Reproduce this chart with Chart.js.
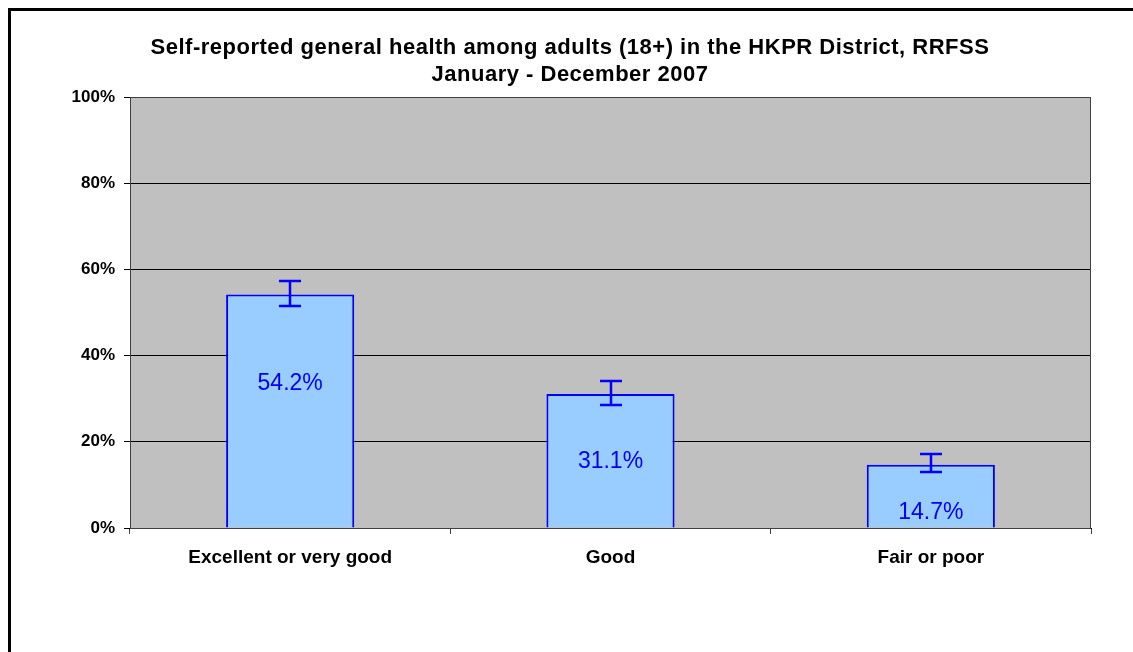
<!DOCTYPE html>
<html lang="en">
  <head>
    <meta charset="utf-8" />
    <title>Self-reported general health</title>
    <script src="https://cdn.jsdelivr.net/npm/chart.js@4.4.0/dist/chart.umd.min.js"></script>
    <style>
      html, body { margin: 0; padding: 0; background: #fff; }
      #wrap { width: 1133px; height: 652px; position: relative; }
    </style>
  </head>
  <body>
    <div id="wrap"><canvas id="healthChart"></canvas></div>
    <script>
      // ---- data ---------------------------------------------------------
      const categories = ["Excellent or very good", "Good", "Fair or poor"];
      const percents = [54.2, 31.1, 14.7];
      const ciLow = [51.6, 28.6, 12.9];
      const ciHigh = [57.4, 34.1, 17.1];
      const yTicks = [0, 20, 40, 60, 80, 100];
      const titleLines = [
        "Self-reported general health among adults (18+) in the HKPR District, RRFSS",
        "January - December 2007",
      ];
      // where the value labels sit (in % units, as in the original)
      const labelAt = [33.6, 15.5, 3.5];

      const FONT = "'Liberation Sans', Arial, sans-serif";

      // ---- plugins ------------------------------------------------------
      const backdrop = {
        id: "backdrop",
        beforeDraw(chart) {
          const { ctx, chartArea: a } = chart;
          ctx.save();
          ctx.fillStyle = "#fff";
          ctx.fillRect(0, 0, chart.width, chart.height);
          ctx.fillStyle = "#c0c0c0";
          ctx.fillRect(a.left, a.top, a.right - a.left, a.bottom - a.top);
          ctx.restore();
        },
        afterDraw(chart) {
          const { ctx, chartArea: a } = chart;
          ctx.save();
          // plot border
          ctx.strokeStyle = "#404040";
          ctx.lineWidth = 1;
          ctx.strokeRect(a.left + 0.5, a.top + 0.5, a.right - a.left - 1, a.bottom - a.top);
          // outer frame (cut off at right / bottom)
          ctx.strokeStyle = "#000";
          ctx.lineWidth = 3;
          ctx.beginPath();
          ctx.moveTo(9.5, chart.height + 2);
          ctx.lineTo(9.5, 9.5);
          ctx.lineTo(chart.width + 2, 9.5);
          ctx.stroke();
          // title
          ctx.fillStyle = "#000";
          ctx.font = "bold 22px " + FONT;
          ctx.letterSpacing = "0.5px";
          ctx.textAlign = "center";
          ctx.textBaseline = "middle";
          titleLines.forEach((t, i) => ctx.fillText(t, 570, 48 + i * 27));
          ctx.restore();
        },
      };

      const errorBars = {
        id: "errorBars",
        afterDatasetsDraw(chart) {
          const { ctx } = chart;
          const y = chart.scales.y;
          const meta = chart.getDatasetMeta(0);
          ctx.save();
          ctx.strokeStyle = "#0000ff";
          ctx.lineWidth = 2.5;
          meta.data.forEach((bar, i) => {
            const x = Math.round(bar.x);
            const yl = Math.round(y.getPixelForValue(ciLow[i]));
            const yh = Math.round(y.getPixelForValue(ciHigh[i]));
            ctx.beginPath();
            ctx.moveTo(x, yl);
            ctx.lineTo(x, yh);
            ctx.moveTo(x - 11, yl);
            ctx.lineTo(x + 11, yl);
            ctx.moveTo(x - 11, yh);
            ctx.lineTo(x + 11, yh);
            ctx.stroke();
          });
          // value labels
          ctx.fillStyle = "#0000ee";
          ctx.font = "23px " + FONT;
          ctx.textAlign = "center";
          ctx.textBaseline = "middle";
          meta.data.forEach((bar, i) => {
            ctx.fillText(percents[i].toFixed(1) + "%", bar.x, y.getPixelForValue(labelAt[i]));
          });
          ctx.restore();
        },
      };

      // ---- chart --------------------------------------------------------
      const ctx = document.getElementById("healthChart").getContext("2d");
      new Chart(ctx, {
        type: "bar",
        data: {
          labels: categories,
          datasets: [
            {
              data: percents,
              backgroundColor: "#99ccff",
              borderColor: "#0000ff",
              borderWidth: 2,
              barPercentage: 0.4,
              categoryPercentage: 1,
            },
          ],
        },
        options: {
          responsive: true,
          maintainAspectRatio: false,
          animation: false,
          layout: { padding: { top: 97, right: 42, left: 0, bottom: 0 } },
          plugins: {
            legend: { display: false },
            tooltip: { enabled: false },
          },
          scales: {
            x: {
              offset: true,
              grid: {
                offset: true,
                drawOnChartArea: false,
                color: "#404040",
                tickLength: 6,
              },
              border: { color: "#000" },
              ticks: {
                color: "#000",
                font: { family: FONT, size: 19, weight: "bold" },
                padding: 12,
              },
              afterFit(scale) {
                scale.height = 124;
              },
            },
            y: {
              min: 0,
              max: 100,
              afterBuildTicks(scale) {
                scale.ticks = yTicks.map((v) => ({ value: v }));
              },
              grid: { color: "#000", lineWidth: 1, tickLength: 6 },
              border: { color: "#404040" },
              ticks: {
                color: "#000",
                font: { family: FONT, size: 17, weight: "bold" },
                padding: 9,
                callback: (v) => v + "%",
              },
              afterFit(scale) {
                scale.width = 130;
              },
            },
          },
        },
        plugins: [backdrop, errorBars],
      });
    </script>
  </body>
</html>
